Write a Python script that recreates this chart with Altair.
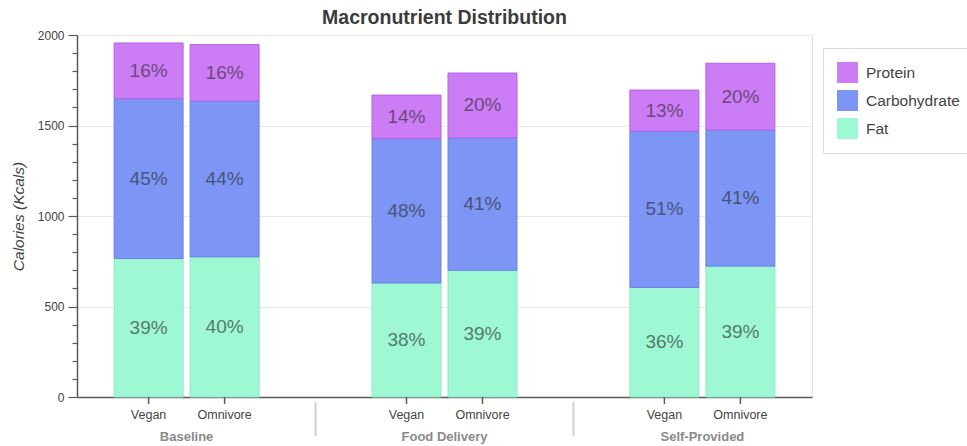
import altair as alt
import pandas as pd

# Study arms and diets
groups = ["Baseline", "Food Delivery", "Self-Provided"]
diets = ["Vegan", "Omnivore"]
nutrients = ["Protein", "Carbohydrate", "Fat"]

# Calories per macronutrient, one value per bar:
# Baseline/Vegan, Baseline/Omnivore, Food Delivery/Vegan, Food Delivery/Omnivore,
# Self-Provided/Vegan, Self-Provided/Omnivore
protein = [308, 312, 240, 358, 227, 369]
carbohydrate = [883, 861, 798, 732, 864, 752]
fat = [765, 774, 630, 700, 605, 723]

fill_colors = ["#CC7DF5", "#7D95F4", "#9EF8D3"]
edge_colors = ["#B463E6", "#6B84E6", "#8DEBC4"]

FONT = "Liberation Sans"
W, H = 735, 362

bars_keys = [(g, d) for g in groups for d in diets]
series = {"Protein": protein, "Carbohydrate": carbohydrate, "Fat": fat}
stack_rank = {"Fat": 0, "Carbohydrate": 1, "Protein": 2}

rows = []
for i, (g, d) in enumerate(bars_keys):
    for n in nutrients:
        rows.append({"group": g, "diet": d, "nutrient": n,
                     "calories": series[n][i], "rank": stack_rank[n]})
df = pd.DataFrame(rows)

# band layout for the grouped x axis
g_inner, g_outer = 0.4, 0.125
g_step = W / (len(groups) - g_inner + 2 * g_outer)
sep_offset = -g_inner * g_step / 2

x_enc = alt.X(
    "group:N", sort=groups,
    scale=alt.Scale(paddingInner=g_inner, paddingOuter=g_outer),
    axis=alt.Axis(title=None, ticks=False, tickSize=0, labelPadding=33,
                  labelAngle=0, labelFontSize=13, labelFontWeight="bold",
                  labelColor="#8a8a8a", labelFont=FONT,
                  domainColor="#5a5a5a", domainWidth=1.5, grid=False),
)
xo_enc = alt.XOffset("diet:N", sort=diets,
                     scale=alt.Scale(paddingInner=0.092, paddingOuter=0.064))

# major ticks every 500 kcal, minor ticks every 100 kcal
y_values = list(range(0, 2001, 100))
major = "datum.value % 500 === 0"
y_axis = alt.Axis(
    title="Calories (Kcals)", values=y_values, tickCount=len(y_values),
    format="d", labelOverlap=False,
    labelExpr=f"{major} ? datum.label : ''",
    tickSize={"condition": {"test": major, "value": 9}, "value": 5},
    gridOpacity={"condition": {"test": major, "value": 1}, "value": 0},
    gridColor="#e6e6e6", tickColor="#5a5a5a", tickWidth=1.2,
    domainColor="#5a5a5a", domainWidth=1.5,
    labelFontSize=12, labelColor="#444", labelFont=FONT, labelPadding=4,
    titleFont=FONT, titleFontSize=15.5, titleFontStyle="italic",
    titleFontWeight="normal", titleColor="#444",
    titleAngle=270, titleX=-59, titleY=H / 2, titleBaseline="middle",
    titleAlign="center",
)

base = (
    alt.Chart(df)
    .transform_joinaggregate(total="sum(calories)", groupby=["group", "diet"])
    .transform_calculate(pct="round(datum.calories / datum.total * 100) + '%'")
    .transform_stack(stack="calories", groupby=["group", "diet"],
                     as_=["y0", "y1"], sort=[alt.SortField("rank", "ascending")])
    .transform_calculate(ymid="(datum.y0 + datum.y1) / 2")
)

bars = base.mark_bar(strokeWidth=1).encode(
    x=x_enc,
    xOffset=xo_enc,
    y=alt.Y("y0:Q", scale=alt.Scale(domain=[0, 2000], nice=False), axis=y_axis),
    y2="y1:Q",
    color=alt.Color(
        "nutrient:N",
        scale=alt.Scale(domain=nutrients, range=fill_colors),
        legend=alt.Legend(
            title=None, orient="none", legendX=746, legendY=13,
            labelFont=FONT, labelFontSize=15.5, labelColor="#444",
            symbolType="square", symbolSize=441, symbolStrokeWidth=0,
            padding=14, rowPadding=7, labelOffset=8,
            strokeColor="#dcdcdc", fillColor="white",
        ),
    ),
    stroke=alt.Stroke("nutrient:N",
                      scale=alt.Scale(domain=nutrients, range=edge_colors),
                      legend=None),
    order=alt.Order("rank:Q"),
)

labels = base.mark_text(font=FONT, fontSize=19, color="#2b2b2b",
                        opacity=0.62, baseline="middle").encode(
    x=alt.X("group:N", sort=groups),
    xOffset=xo_enc,
    y=alt.Y("ymid:Q"),
    text="pct:N",
)

one_per_bar = base.transform_filter("datum.nutrient === 'Fat'")

diet_ticks = one_per_bar.mark_rule(color="#5a5a5a", strokeWidth=1.5).encode(
    x=alt.X("group:N", sort=groups),
    xOffset=xo_enc,
    y=alt.value(H),
    y2=alt.value(H + 7),
)

diet_labels = one_per_bar.mark_text(font=FONT, fontSize=12.5, color="#444",
                                    baseline="middle").encode(
    x=alt.X("group:N", sort=groups),
    xOffset=xo_enc,
    y=alt.value(H + 18),
    text="diet:N",
)

separators = (
    alt.Chart(pd.DataFrame({"group": groups[1:]}))
    .mark_rule(color="#d0d0d0", strokeWidth=2)
    .encode(
        x=alt.X("group:N", sort=groups, bandPosition=0),
        xOffset=alt.value(sep_offset),
        y=alt.value(H + 5),
        y2=alt.value(H + 39),
    )
)

chart = (
    alt.layer(bars, labels, diet_ticks, diet_labels, separators)
    .properties(
        width=W, height=H,
        title=alt.TitleParams("Macronutrient Distribution", font=FONT,
                              fontSize=19.5, fontWeight="bold", color="#3c3c3c",
                              anchor="middle", offset=1),
        autosize=alt.AutoSizeParams(type="none"),
        padding={"left": 77, "top": 35, "right": 155, "bottom": 49},
    )
    .configure_view(stroke="#e3e3e3", strokeWidth=1)
    .configure(background="white")
)

chart.save("out.html", embed_options={"renderer": "svg", "actions": False})
